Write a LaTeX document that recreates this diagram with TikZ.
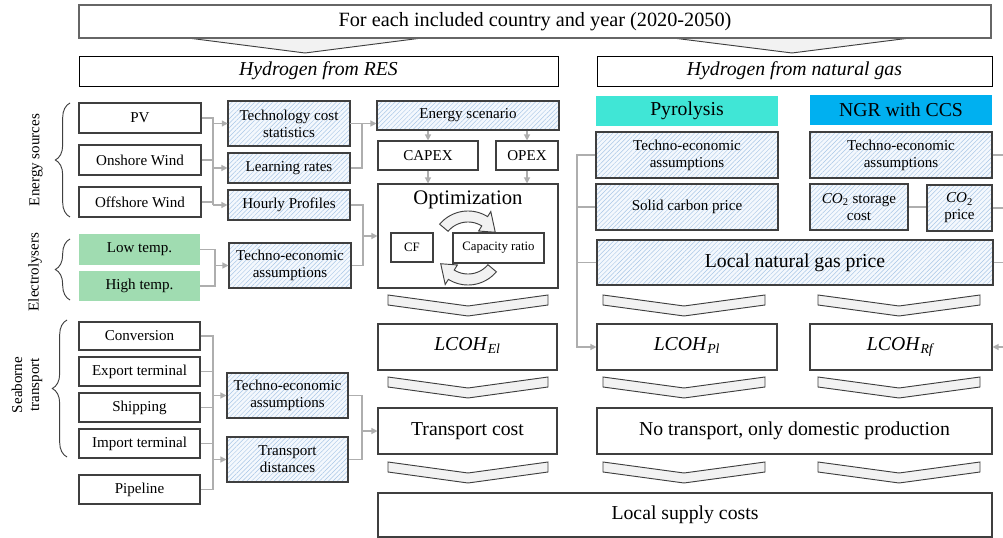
\documentclass[tikz,border=0pt]{standalone}
\usepackage{fontspec}
\setmainfont{Liberation Serif}
\usetikzlibrary{arrows.meta,patterns.meta,decorations.pathreplacing}

\definecolor{edge}{HTML}{3F3F3F}
\definecolor{wirec}{HTML}{AEAEAE}
\definecolor{hatchbg}{HTML}{F4F8FD}
\definecolor{hatchln}{HTML}{A8C6E6}
\definecolor{chevfill}{HTML}{F2F2F2}
\definecolor{elgreen}{HTML}{A0DCB1}
\definecolor{pyroteal}{HTML}{40E6D6}
\definecolor{ngrblue}{HTML}{00B0F0}

\newcommand\fsTitle{\fontsize{15.2}{17}\selectfont}
\newcommand\fsBig{\fontsize{14.8}{17}\selectfont}
\newcommand\fsSmall{\fontsize{11.3}{12.8}\selectfont}
\newcommand\fsTiny{\fontsize{9.6}{11}\selectfont}
\newcommand\fsOpt{\fontsize{15.5}{18}\selectfont}
% levelized cost label with a subscript; equal depth for every variant
\newcommand\lcoh[1]{\textit{LCOH}\textsubscript{\textit{#1}}\vphantom{\textsubscript{\textit{Rf}}}}

% box given by its corners in pixel units
\newcommand\flowbox[7]{\node[#2, minimum width={(#5-#3)*0.75pt}, minimum height={(#6-#4)*0.75pt}]
  (#1) at ({(#3+#5)/2},{(#4+#6)/2}) {#7};}
% downward chevron between x=#1 and x=#2, top at y=#3
\newcommand\chevrow[3]{\draw[chev] (#1,#3) -- ({(#1+#2)/2},#3+11) -- (#2,#3) -- (#2,#3+10) -- ({(#1+#2)/2},#3+21) -- (#1,#3+10) -- cycle;}

\tikzset{
  basebox/.style={draw=edge, line width=0.8pt, inner sep=0pt, align=center, font=\fsSmall},
  whitebox/.style={basebox, fill=white},
  hatchbox/.style={basebox, preaction={fill=hatchbg},
    pattern={Lines[angle=45,distance=2.4pt,line width=0.35pt]}, pattern color=hatchln},
  colorbox/.style={inner sep=0pt, align=center, fill=#1, font=\fsBig},
  chev/.style={draw=edge, fill=chevfill, line width=0.7pt, line join=miter},
  wire/.style={draw=wirec, line width=0.9pt},
  feed/.style={wire, -{Triangle[length=4.5pt,width=4.5pt]}},
  curly/.style={draw=edge, line width=0.7pt, decorate, decoration={brace, amplitude=11pt}},
  side/.style={rotate=90, font=\fsSmall, align=center},
}

\begin{document}
\begin{tikzpicture}[x=0.75pt,y=-0.75pt]
\useasboundingbox (0,0) rectangle (1003,538);

% header
\fill[chevfill] (188,38) -- (305,53) -- (422,38) -- cycle;
\draw[edge, line width=0.7pt] (188,38) -- (305,53) -- (422,38);
\fill[chevfill] (673,38) -- (792,53) -- (910,38) -- cycle;
\draw[edge, line width=0.7pt] (673,38) -- (792,53) -- (910,38);
\flowbox{title}{basebox, draw=black!60, line width=1.1pt, font=\fsTitle}{79}{5}{991}{38}{For each included country and year (2020-2050)}
\flowbox{resH}{basebox, draw=black, line width=0.7pt, font=\fsBig\itshape}{79}{56}{558}{86}{Hydrogen from RES}
\flowbox{gasH}{basebox, draw=black, line width=0.7pt, font=\fsBig\itshape}{597}{56}{992}{86}{Hydrogen from natural gas}

% energy sources
\node[side] (lblEnergy) at (36,160) {Energy sources};
\draw[curly] (70,217) -- (70,103);
\flowbox{pv}{whitebox}{79}{103}{201}{133}{PV}
\flowbox{onw}{whitebox}{79}{145}{201}{175}{Onshore Wind}
\flowbox{offw}{whitebox}{79}{187}{201}{217}{Offshore Wind}
\flowbox{tcs}{hatchbox}{228}{101}{350}{146}{Technology cost\\statistics}
\flowbox{lr}{hatchbox}{228}{153}{350}{183}{Learning rates}
\flowbox{hp}{hatchbox}{228}{190}{350}{220}{Hourly Profiles}

% electrolysers
\node[side] (lblElec) at (35,272) {Electrolysers};
\draw[curly] (70,300) -- (70,239);
\flowbox{lowT}{colorbox=elgreen, font=\fsSmall}{79}{234}{200}{265}{Low temp.}
\flowbox{highT}{colorbox=elgreen, font=\fsSmall}{79}{271}{200}{301}{High temp.}
\flowbox{elTea}{hatchbox}{229}{243}{351}{288}{Techno-economic\\assumptions}

% seaborne transport
\node[side] (lblSea) at (27,385) {Seaborne\\transport};
\draw[curly] (67,457) -- (67,320);
\flowbox{conv}{whitebox}{79}{322}{200}{350}{Conversion}
\flowbox{exp}{whitebox}{79}{357}{200}{386}{Export terminal}
\flowbox{ship}{whitebox}{79}{393}{200}{422}{Shipping}
\flowbox{imp}{whitebox}{79}{429}{200}{458}{Import terminal}
\flowbox{pipe}{whitebox}{79}{475}{200}{504}{Pipeline}
\flowbox{trTea}{hatchbox}{227}{373}{348}{418}{Techno-economic\\assumptions}
\flowbox{trDist}{hatchbox}{227}{437}{348}{482}{Transport\\distances}

% electrolysis model
\flowbox{escen}{hatchbox}{377}{101}{559}{130}{Energy scenario}
\flowbox{capex}{whitebox}{378}{141}{478}{170}{CAPEX}
\flowbox{opex}{whitebox}{496}{141}{558}{170}{OPEX}
\flowbox{opt}{whitebox}{378}{184}{558}{288}{}
\node[font=\fsOpt] (optLabel) at (468,200) {Optimization};
\begin{scope}[shift={(468,248)}]
  \draw[chev] plot[domain=-140:-58,samples=24] ({\x}:37) -- (-58:43) -- (-30:31.5) -- (-58:20)
    -- plot[domain=-58:-140,samples=24] ({\x}:26) -- cycle;
  \draw[chev] plot[domain=40:122,samples=24] ({\x}:37) -- (122:43) -- (150:31.5) -- (122:20)
    -- plot[domain=122:40,samples=24] ({\x}:26) -- cycle;
\end{scope}
\flowbox{cf}{whitebox, font=\fsTiny}{391}{233}{433}{262}{CF}
\flowbox{capr}{whitebox, font=\fsTiny}{453}{233}{544}{263}{Capacity ratio}

% natural gas routes
\flowbox{pyro}{colorbox=pyroteal}{596}{96}{778}{126}{Pyrolysis}
\flowbox{ngr}{colorbox=ngrblue}{810}{95}{992}{125}{NGR with CCS}
\flowbox{pyTea}{hatchbox}{596}{132}{778}{178}{Techno-economic\\assumptions}
\flowbox{solidC}{hatchbox}{596}{184}{778}{230}{Solid carbon price}
\flowbox{ngrTea}{hatchbox}{810}{132}{992}{178}{Techno-economic\\assumptions}
\flowbox{co2s}{hatchbox}{810}{184}{908}{230}{\textit{CO}\textsubscript{2} storage\\cost}
\flowbox{co2p}{hatchbox}{927}{185}{992}{231}{\textit{CO}\textsubscript{2}\\price}
\flowbox{lngp}{hatchbox, font=\fsBig}{597}{240}{993}{285}{Local natural gas price}

% results
\flowbox{lcohEl}{whitebox, font=\fsBig}{378}{324}{557}{370}{\lcoh{El}}
\flowbox{lcohPl}{whitebox, font=\fsBig}{597}{324}{777}{370}{\lcoh{Pl}}
\flowbox{lcohRf}{whitebox, font=\fsBig}{810}{324}{992}{370}{\lcoh{Rf}}
\flowbox{trCost}{whitebox, font=\fsBig}{378}{408}{557}{454}{Transport cost}
\flowbox{noTr}{whitebox, font=\fsBig}{597}{408}{992}{454}{No transport, only domestic production}
\flowbox{supply}{whitebox, font=\fsBig}{378}{493}{992}{537}{Local supply costs}

% chevrons between stages
\foreach \y in {295,377,462}{
  \chevrow{388}{548}{\y}
  \chevrow{603}{765}{\y}
  \chevrow{818}{980}{\y}
}

% energy sources to parameters
\coordinate (ebus) at (213,0);
\draw[wire] (pv.east) -- (pv.east -| ebus) -- (hp.west -| ebus);
\draw[wire] (onw.east) -- (onw.east -| ebus);
\draw[wire] (offw.east) -- (offw.east -| ebus);
\draw[feed] (tcs.west -| ebus) -- (tcs.west);
\draw[feed] (lr.west -| ebus) -- (lr.west);
\draw[feed] (hp.west -| ebus) -- (hp.west);

% electrolysers to assumptions
\coordinate (lbus) at (215,0);
\draw[wire] (lowT.east) -- (lowT.east -| lbus) -- (highT.east -| lbus) -- (highT.east);
\draw[feed] (elTea.west -| lbus) -- (elTea.west);

% cost data to energy scenario
\coordinate (sbus) at (362,0);
\draw[feed] (tcs.east) -- (tcs.east -| escen.west);
\draw[wire] (lr.east) -- (lr.east -| sbus) -- (tcs.east -| sbus);

% profiles and electrolyser data to optimization
\coordinate (obus) at (363,0);
\draw[wire] (hp.east) -- (hp.east -| obus) -- (elTea.east -| obus) -- (elTea.east);
\draw[feed] (opt.west -| obus) -- (opt.west);

% scenario to CAPEX/OPEX to optimization
\draw[feed] (capex.north |- escen.south) -- (capex.north);
\draw[feed] (opex.north |- escen.south) -- (opex.north);
\draw[feed] (capex.south) -- (capex.south |- opt.north);
\draw[feed] (opex.south) -- (opex.south |- opt.north);

% transport chain
\coordinate (tbus) at (213,0);
\draw[wire] (conv.east) -- (conv.east -| tbus) -- (pipe.east -| tbus) -- (pipe.east);
\foreach \n in {exp,ship,imp} \draw[wire] (\n.east) -- (\n.east -| tbus);
\draw[feed] (trTea.west -| tbus) -- (trTea.west);
\draw[feed] (trDist.west -| tbus) -- (trDist.west);
\coordinate (cbus) at (362,0);
\draw[wire] (trTea.east) -- (trTea.east -| cbus) -- (trDist.east -| cbus) -- (trDist.east);
\draw[feed] (trCost.west -| cbus) -- (trCost.west);

% pyrolysis inputs
\coordinate (pbus) at (577,0);
\draw[feed] (pyTea.west) -- (pyTea.west -| pbus) -- (lcohPl.west -| pbus) -- (lcohPl.west);
\draw[wire] (solidC.west) -- (solidC.west -| pbus);
\draw[wire] (lngp.west) -- (lngp.west -| pbus);

% reforming inputs, collected along the right margin
\coordinate (rbus) at (1012,0);
\draw[feed] (ngrTea.east) -- (ngrTea.east -| rbus) -- (lcohRf.east -| rbus) -- (lcohRf.east);
\draw[wire] (co2p.east) -- (co2p.east -| rbus);
\draw[wire] (lngp.east) -- (lngp.east -| rbus);
\draw[wire] (co2s.east) -- (co2s.east -| co2p.west);
\end{tikzpicture}
\end{document}
